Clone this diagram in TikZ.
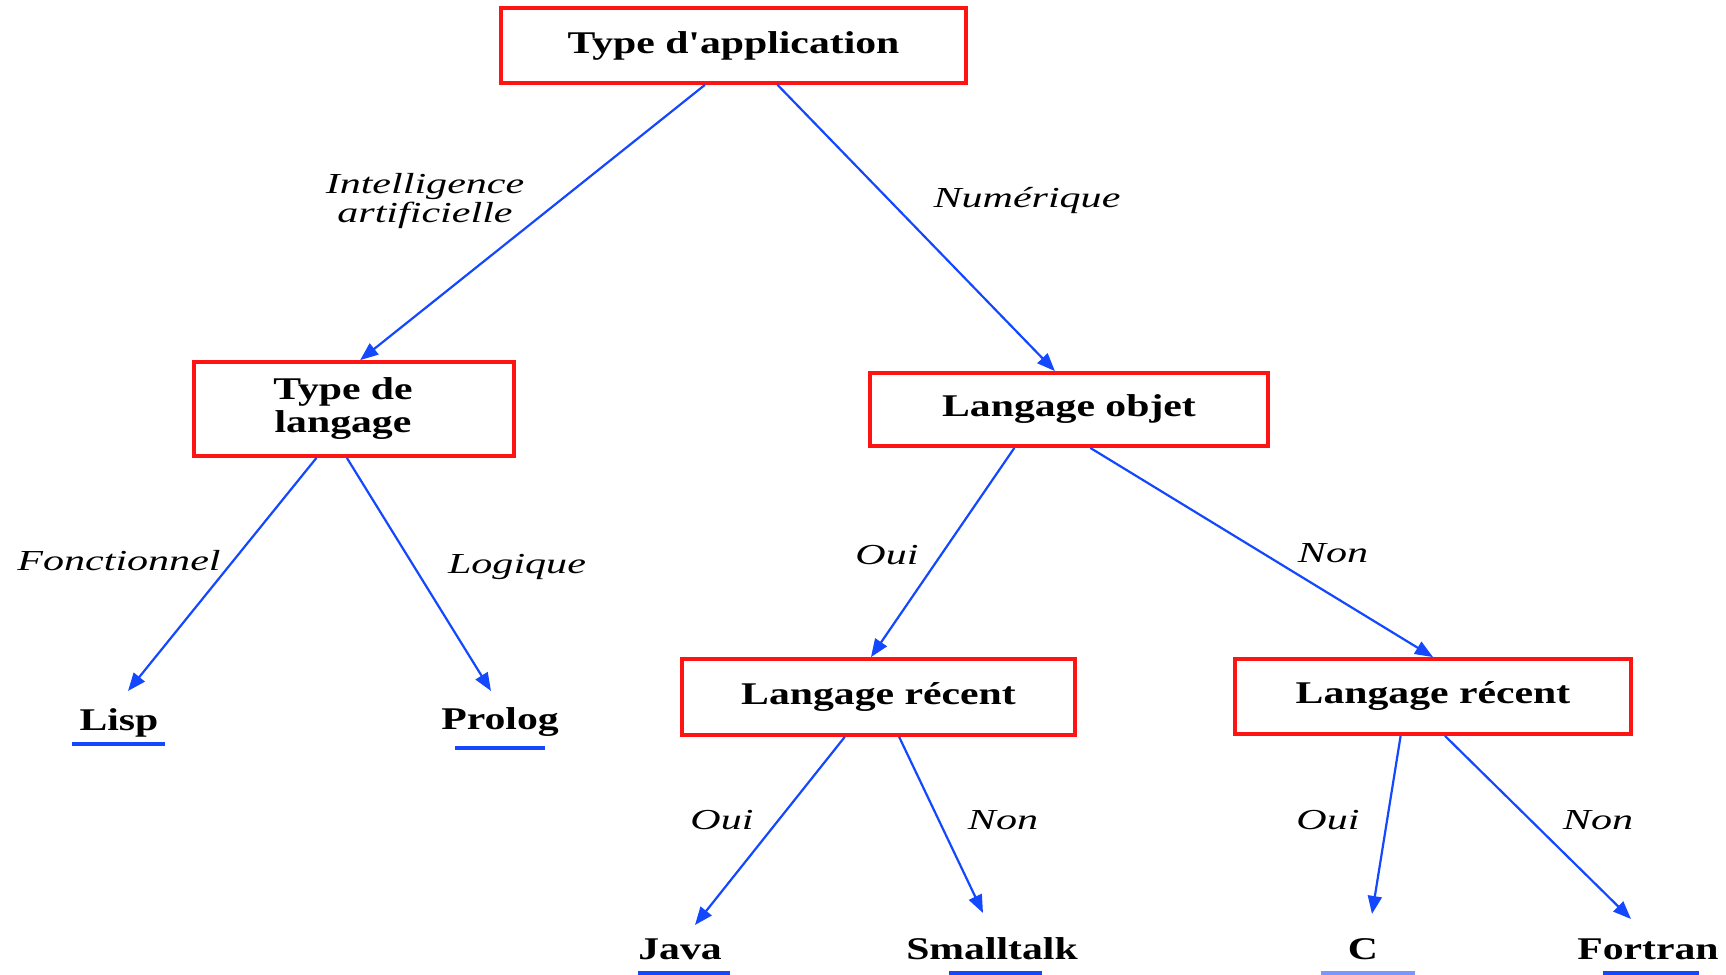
\documentclass[tikz,border=0pt]{standalone}
\usepackage{fontspec}
\setmainfont{Liberation Serif}
\newfontfamily\boxfont[FakeStretch=1.32]{Liberation Serif}
\newfontfamily\labfont[FakeStretch=1.45]{Liberation Serif}
\usetikzlibrary{calc,arrows.meta}
\definecolor{boxred}{RGB}{255,20,20}
\definecolor{arrblue}{RGB}{20,72,255}
\definecolor{lightblue}{RGB}{120,150,255}
\tikzset{
  x=0.5pt, y=-0.5pt,
  qbox/.style={draw=boxred, line width=1.9pt, inner sep=0pt, align=center,
    font=\boxfont\fontsize{15.8}{16.5}\selectfont\bfseries},
  leaf/.style={inner sep=0pt, font=\boxfont\fontsize{15.8}{16.5}\selectfont\bfseries},
  lab/.style={inner sep=0pt, align=center, font=\labfont\fontsize{14.5}{14.5}\selectfont\itshape},
  arr/.style={draw=arrblue, line width=1.1pt, -{Triangle[length=9pt,width=7pt]}},
  uline/.style={draw=arrblue, line width=2pt},
}
\begin{document}
\begin{tikzpicture}
\useasboundingbox (0,0) rectangle (1726,975);
% boxes
\node[qbox, minimum width=232.5pt, minimum height=37.5pt] (app) at (733.5,45.5) {\raisebox{-3.5pt}{Type d'application}};
\node[qbox, minimum width=160pt, minimum height=47pt] (tdl) at (354,409) {\raisebox{-1.5pt}{\begin{tabular}{@{}c@{}}Type de\\[0pt]langage\end{tabular}}\hspace{11pt}};
\node[qbox, minimum width=199pt, minimum height=36.5pt] (lo) at (1069,409.5) {\raisebox{-1pt}{Langage objet}};
\node[qbox, minimum width=196.5pt, minimum height=38pt] (lr1) at (878.5,697) {\raisebox{-1pt}{Langage récent}};
\node[qbox, minimum width=198pt, minimum height=37.5pt] (lr2) at (1433,696.5) {\raisebox{-1pt}{Langage récent}};
% leaves
\node[leaf] (lisp) at (119,723) {Lisp};
\node[leaf] (prolog) at (500,722) {Prolog};
\node[leaf] (java) at (680,949) {Java};
\node[leaf] (small) at (992,949) {Smalltalk};
\node[leaf] (c) at (1363,949) {C};
\node[leaf] (fortran) at (1648,949) {Fortran};
% arrows
\draw[arr] ($(app.south west)!0.439!(app.south east)$) -- ($(tdl.north west)!0.519!(tdl.north east)$);
\draw[arr] ($(app.south west)!0.594!(app.south east)$) -- ($(lo.north west)!0.465!(lo.north east)$);
\draw[arr] ($(tdl.south west)!0.384!(tdl.south east)$) -- ($(lisp.center)+(9,-32)$);
\draw[arr] ($(tdl.south west)!0.478!(tdl.south east)$) -- ($(prolog.center)+(-9,-31)$);
\draw[arr] ($(lo.south west)!0.364!(lo.south east)$) -- ($(lr1.north west)!0.481!(lr1.north east)$);
\draw[arr] ($(lo.south west)!0.553!(lo.south east)$) -- ($(lr2.north west)!0.5!(lr2.north east)$);
\draw[arr] ($(lr1.south west)!0.415!(lr1.south east)$) -- ($(java.center)+(15,-24)$);
\draw[arr] ($(lr1.south west)!0.552!(lr1.south east)$) -- ($(small.center)+(-9,-36)$);
\draw[arr] ($(lr2.south west)!0.419!(lr2.south east)$) -- ($(c.center)+(9,-35)$);
\draw[arr] ($(lr2.south west)!0.530!(lr2.south east)$) -- ($(fortran.center)+(-17,-30)$);
% underlines
\draw[uline] ($(lisp.center)+(-47,21)$) -- ($(lisp.center)+(46,21)$);
\draw[uline] ($(prolog.center)+(-45,26)$) -- ($(prolog.center)+(45,26)$);
\draw[uline] ($(java.center)+(-42,24)$) -- ($(java.center)+(50,24)$);
\draw[uline] ($(small.center)+(-43,24)$) -- ($(small.center)+(50,24)$);
\draw[uline, draw=lightblue] ($(c.center)+(-42,24)$) -- ($(c.center)+(52,24)$);
\draw[uline] ($(fortran.center)+(-45,24)$) -- ($(fortran.center)+(51,24)$);
% labels
\node[lab] (l1) at (425,201) {Intelligence\\artificielle};
\node[lab] (l2) at (1027,201) {Numérique};
\node[lab] (l3) at (119,561) {Fonctionnel};
\node[lab] (l4) at (517,567) {Logique};
\node[lab] (l5) at (887,555) {Oui};
\node[lab] (l6) at (1333,553) {Non};
\node[lab] (l7) at (722,820) {Oui};
\node[lab] (l8) at (1003,820) {Non};
\node[lab] (l9) at (1328,820) {Oui};
\node[lab] (l10) at (1598,820) {Non};
\end{tikzpicture}
\end{document}
